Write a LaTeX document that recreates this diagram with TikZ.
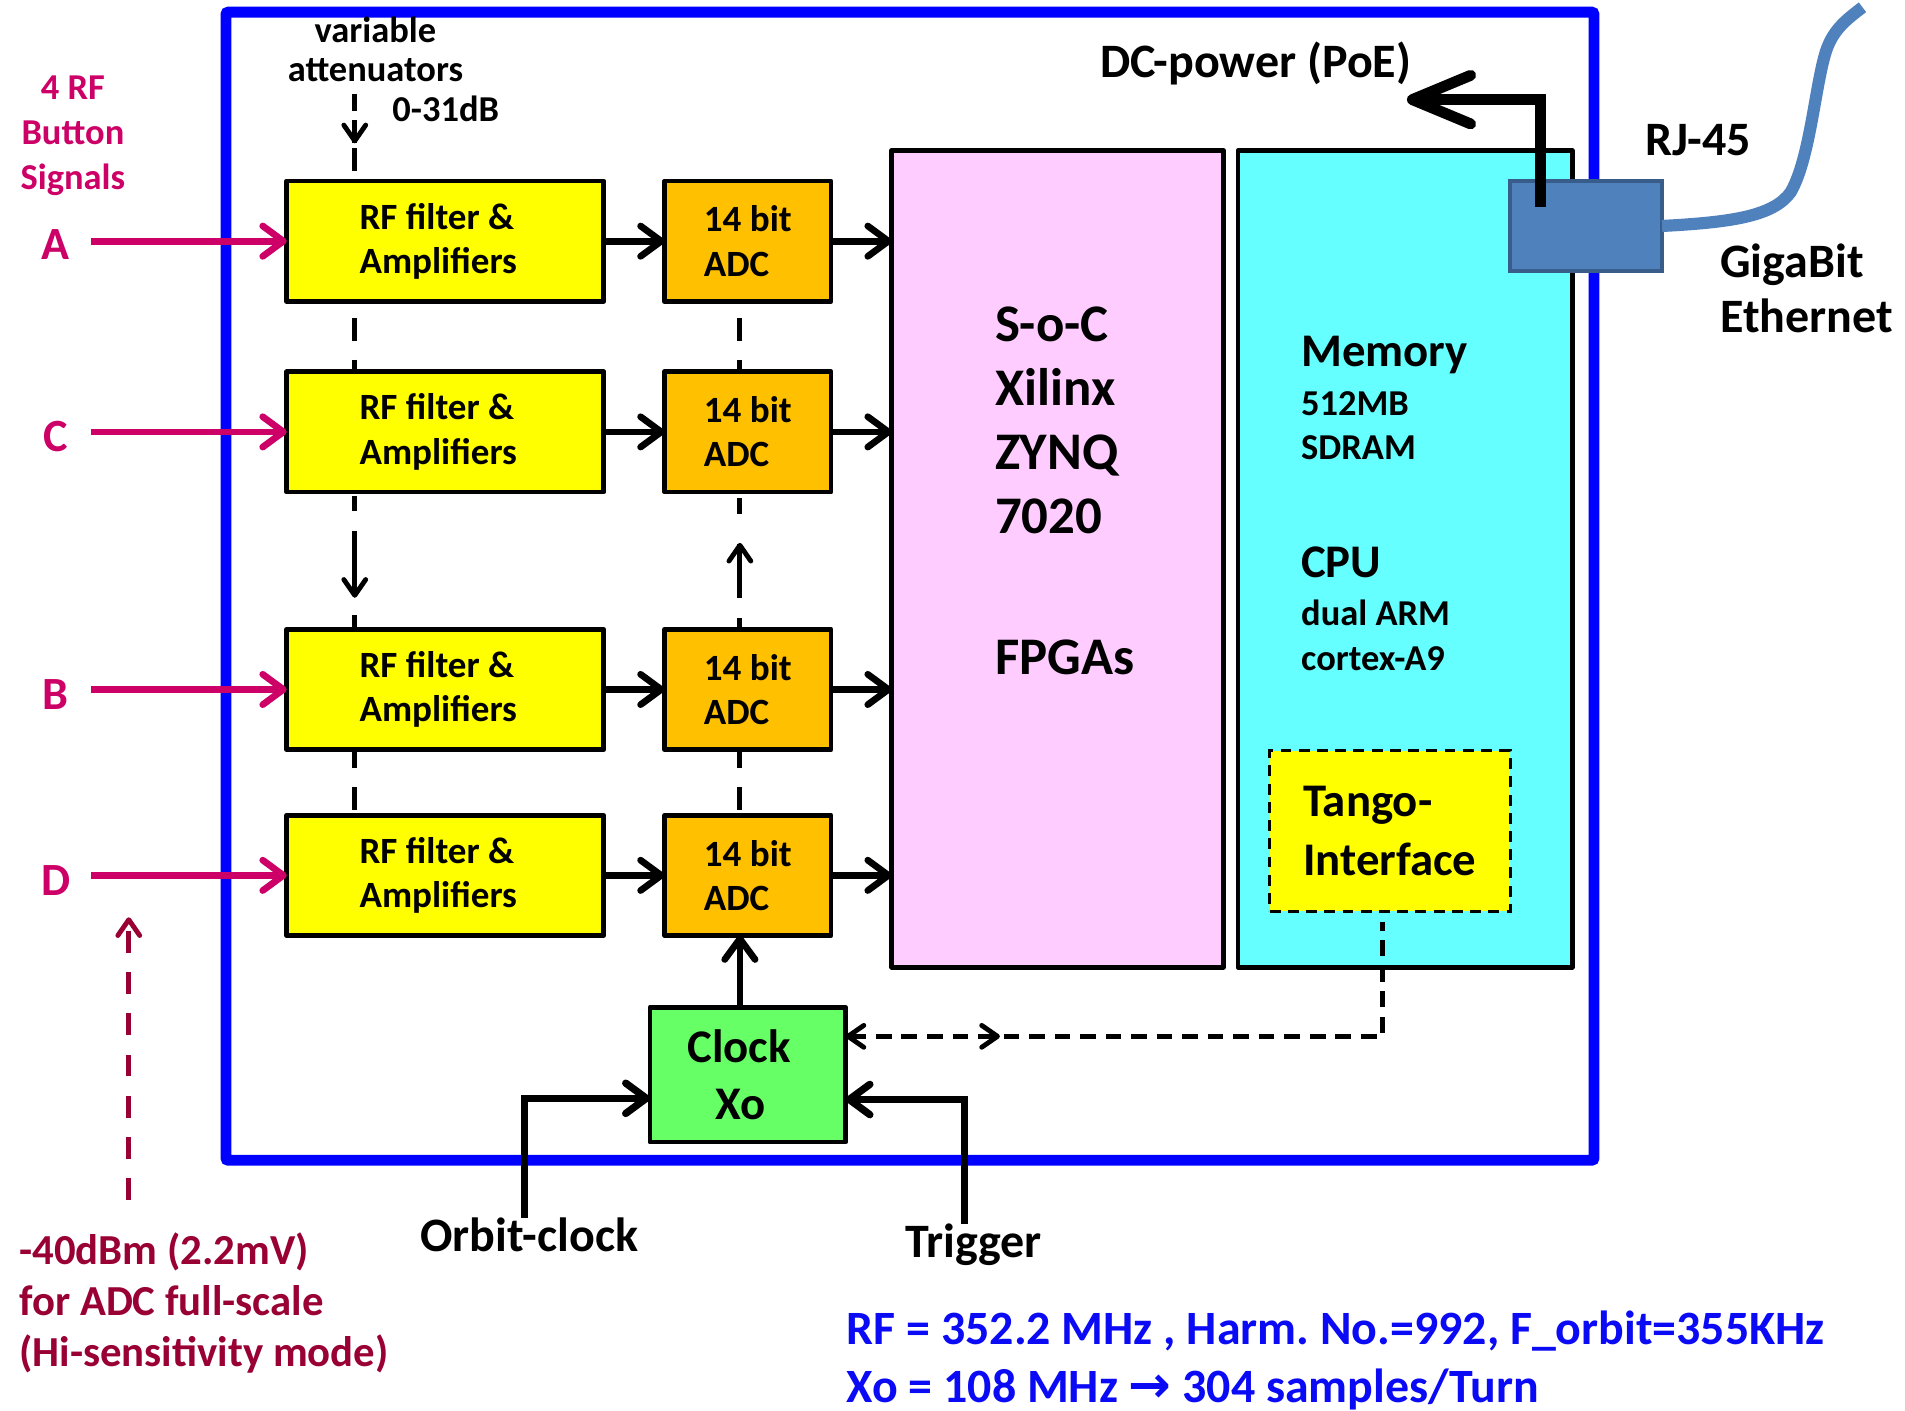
\documentclass[tikz,border=0pt]{standalone}
\usepackage{fontspec}
\setmainfont{Carlito}
\newfontfamily\symfont{DejaVu Sans}
\usetikzlibrary{arrows.meta,decorations.markings}
\frenchspacing

\definecolor{frameblue}{RGB}{0,0,255}
\definecolor{infoblue}{RGB}{10,10,245}
\definecolor{sigmag}{RGB}{204,0,102}
\definecolor{notered}{RGB}{153,0,51}
\definecolor{rfyel}{RGB}{255,255,0}
\definecolor{adcor}{RGB}{255,192,0}
\definecolor{socpink}{RGB}{255,204,255}
\definecolor{memcyan}{RGB}{102,255,255}
\definecolor{clkgreen}{RGB}{102,255,102}
\definecolor{rjblue}{RGB}{79,129,189}
\definecolor{rjedge}{RGB}{56,93,138}

\begin{document}
\begin{tikzpicture}[x=1pt, y=-1pt,
  every node/.style={inner sep=0pt, outer sep=0pt},
  txtsmall/.style={font=\bfseries\fontsize{30}{37}\selectfont},
  txtbig/.style={font=\bfseries\fontsize{38.5}{47}\selectfont},
  txtlabel/.style={font=\bfseries\fontsize{39.5}{47}\selectfont},
  blockbox/.style={draw=black, line width=4pt, line join=round},
  rfbox/.style={blockbox, fill=rfyel, minimum width=261pt, minimum height=99pt,
    text width=141pt, align=flush left, font=\bfseries\fontsize{30.5}{36.5}\selectfont},
  adcbox/.style={blockbox, fill=adcor, minimum width=137pt, minimum height=99pt,
    align=left, font=\bfseries\fontsize{30.5}{36.5}\selectfont},
  bigtip/.tip={Straight Barb[length=17pt,width=25pt,round]},
  smalltip/.tip={Straight Barb[length=13pt,width=18pt,round]},
  sigarrow/.style={draw=sigmag, line width=5.5pt, -bigtip},
  flow/.style={draw=black, line width=5.5pt, -bigtip},
  feed/.style={draw=black, line width=6pt, line join=miter, -bigtip},
  chain/.style={draw=black, line width=4pt},
  midtip/.style={postaction={decorate, decoration={markings,
    mark=at position #1 with {\arrow{smalltip}}}}},
  cable/.style={draw=rjblue, line width=10pt},
]
\useasboundingbox (0,0) rectangle (1568,1161);

% instrument enclosure
\node[draw=frameblue, line width=9pt, rounded corners=2pt,
  minimum width=1126pt, minimum height=945pt] (encl) at (749,482.5) {};

% analogue front end: four channels
\node[rfbox] (rfA) at (366.5,198.5) {RF filter \&\\Amplifiers};
\node[rfbox] (rfC) at (366.5,355.5) {RF filter \&\\Amplifiers};
\node[rfbox] (rfB) at (366.5,567.5) {RF filter \&\\Amplifiers};
\node[rfbox] (rfD) at (366.5,720.5) {RF filter \&\\Amplifiers};
\node[adcbox] (adcA) at (615.5,198.5) {14 bit\\ADC};
\node[adcbox] (adcC) at (615.5,355.5) {14 bit\\ADC};
\node[adcbox] (adcB) at (615.5,567.5) {14 bit\\ADC};
\node[adcbox] (adcD) at (615.5,720.5) {14 bit\\ADC};

% system on chip and processor side
\node[blockbox, fill=socpink, minimum width=273pt, minimum height=672pt] (soc) at (870.5,460) {};
\node[blockbox, fill=memcyan, minimum width=275pt, minimum height=672pt] (mem) at (1156.5,460) {};
\node[anchor=west, align=left, font=\bfseries\fontsize{43.5}{52.5}\selectfont]
  (soctxt) at (819,404) {S-o-C\\Xilinx\\ZYNQ\\7020\\[63.5pt]FPGAs};
\node[txtbig, anchor=base west] (memT) at (1071,302) {Memory};
\node[txtsmall, anchor=base west] (memA) at (1071,342) {512MB};
\node[txtsmall, anchor=base west] (memB) at (1071,378) {SDRAM};
\node[txtbig, anchor=base west] (cpuT) at (1071,475) {CPU};
\node[txtsmall, anchor=base west] (cpuA) at (1071,515) {dual ARM};
\node[txtsmall, anchor=base west] (cpuB) at (1071,552) {cortex-A9};
\node[draw=black, line width=2.5pt, dash pattern=on 9pt off 6pt, fill=rfyel,
  minimum width=198pt, minimum height=132pt, align=left,
  font=\bfseries\fontsize{38.5}{48}\selectfont] (tango) at (1144,684) {Tango-\\Interface};

% clock generator
\node[blockbox, fill=clkgreen, minimum width=161pt, minimum height=111pt,
  align=center, txtbig] (clk) at (615.5,884.5) {Clock\hspace*{14pt}\\Xo\hspace*{12pt}};

% network connector
\node[draw=rjedge, line width=3pt, fill=rjblue, minimum width=125pt, minimum height=74pt] (rj) at (1305.5,186) {};

% helper coordinates for the routing columns
\coordinate (sigx) at (75,0);
\coordinate (rfcol) at (292,0);
\coordinate (adccol) at (609,0);
\coordinate (ocol) at (432,0);
\coordinate (tcol) at (794,0);
\coordinate (tgcol) at (1138,0);
\coordinate (cky) at (0,853);
\coordinate (attin) at (292,77);
\coordinate (poefoot) at (1268,170);
\coordinate (poetip) at (1158,82);
\coordinate (sensbot) at (106,988);
\coordinate (senstip) at (106,755);

% signal names and captions
\node[align=center, text=sigmag, font=\bfseries\fontsize{30}{37}\selectfont]
  (sighdr) at (60,112) {4 RF\\Button\\Signals};
\node[anchor=base, text=sigmag, font=\bfseries\fontsize{38}{46}\selectfont] (lblA) at (46,214) {A};
\node[anchor=base, text=sigmag, font=\bfseries\fontsize{38}{46}\selectfont] (lblC) at (46,372) {C};
\node[anchor=base, text=sigmag, font=\bfseries\fontsize{38}{46}\selectfont] (lblB) at (46,584) {B};
\node[anchor=base, text=sigmag, font=\bfseries\fontsize{38}{46}\selectfont] (lblD) at (46,737) {D};
\node[align=center, font=\bfseries\fontsize{30}{32}\selectfont] (atttxt) at (309,40.5) {variable\\attenuators};
\node[txtsmall, anchor=base west] (attdb) at (323,100) {0-31dB};
\node[anchor=base west, txtlabel] (dcp) at (906,64) {DC-power (PoE)};
\node[anchor=base west, txtlabel] (rjtxt) at (1354,128) {RJ-45};
\node[anchor=base west, txtlabel] (gbe1) at (1416,228) {GigaBit};
\node[anchor=base west, txtlabel] (gbe2) at (1416,274) {Ethernet};
\node[anchor=base west, txtlabel] (orbit) at (346,1030) {Orbit-clock};
\node[anchor=base west, txtlabel] (trig) at (745,1035) {Trigger};
\node[anchor=base west, text=notered, font=\bfseries\fontsize{35.2}{42}\selectfont] (sens1) at (16,1041) {-40dBm (2.2mV)};
\node[anchor=base west, text=notered, font=\bfseries\fontsize{35.2}{42}\selectfont] (sens2) at (16,1083) {for ADC full-scale};
\node[anchor=base west, text=notered, font=\bfseries\fontsize{35.2}{42}\selectfont] (sens3) at (16,1125) {(Hi-sensitivity mode)};
\node[anchor=base west, text=infoblue, font=\bfseries\fontsize{39.4}{47}\selectfont] (info1) at (697,1107)
  {RF = 352.2 MHz , Harm. No.=992, F\_orbit=355KHz};
\node[anchor=base west, text=infoblue, font=\bfseries\fontsize{39.4}{47}\selectfont] (info2) at (697,1154)
  {Xo = 108 MHz {\symfont\bfseries\fontsize{42}{47}\selectfont →} 304 samples/Turn};

% RF inputs
\draw[sigarrow] (rfA.west -| sigx) -- (rfA.west);
\draw[sigarrow] (rfC.west -| sigx) -- (rfC.west);
\draw[sigarrow] (rfB.west -| sigx) -- (rfB.west);
\draw[sigarrow] (rfD.west -| sigx) -- (rfD.west);

% data path
\foreach \ch in {A,C,B,D} {
  \draw[flow] (rf\ch.east) -- (adc\ch.west);
  \draw[flow] (adc\ch.east) -- (adc\ch.east -| soc.west);
}

% attenuator control and channel chaining
\draw[chain, dash pattern=on 14pt off 8pt on 19pt off 4pt on 20pt off 10pt, midtip=0.64]
  (attin) -- ([yshift=8pt]rfA.north -| rfcol);
\draw[chain, dash pattern=on 19pt off 15pt, dash phase=20pt] (rfA.south -| rfcol) -- (rfC.north -| rfcol);
\draw[chain, dash pattern=on 19pt off 15pt, dash phase=20pt] (adcA.south -| adccol) -- (adcC.north -| adccol);
\draw[chain, dash pattern=on 13pt off 16pt on 52pt off 17pt on 16pt off 3pt, dash phase=114pt, midtip=0.77]
  (rfC.south -| rfcol) -- (rfB.north -| rfcol);
\draw[chain, dash pattern=on 9pt off 17pt on 44pt off 25pt on 13pt off 3pt, midtip=0.63]
  (adcB.north -| adccol) -- (adcC.south -| adccol);
\draw[chain, dash pattern=on 15pt off 16pt on 19pt off 10pt] (rfB.south -| rfcol) -- (rfD.north -| rfcol);
\draw[chain, dash pattern=on 15pt off 16pt on 19pt off 10pt] (adcB.south -| adccol) -- (adcD.north -| adccol);

% clock distribution
\draw[flow] (clk.north -| adccol) -- (adcD.south -| adccol);
\draw[feed] (orbit.north -| ocol) |- ([yshift=-19.5pt]clk.west);
\draw[feed] (trig.north -| tcol) |- ([yshift=-20.5pt]clk.east);
\draw[chain, dash pattern=on 13pt off 8pt, smalltip-, midtip=0.237]
  (clk.east |- cky) -- (tgcol |- cky) -- ([yshift=-9pt]tango.south -| tgcol);

% sensitivity note
\draw[draw=notered, line width=4pt, dash pattern=on 18pt off 16pt, -smalltip] (sensbot) -- (senstip);

% power over ethernet and cable
\draw[draw=black, line width=9pt, -{Straight Barb[length=48pt,width=40pt,round]}] (poefoot) |- (poetip);
\draw[cable] (rj.east) .. controls (1425,183) and (1460,178) .. (1474,158)
  .. controls (1490,130) and (1494,70) .. (1503,42)
  .. controls (1509,24) and (1520,16) .. (1533,6);
\end{tikzpicture}
\end{document}
